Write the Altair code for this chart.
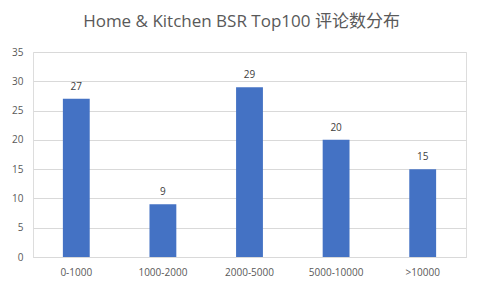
import altair as alt
import pandas as pd

categories = ["0-1000", "1000-2000", "2000-5000", "5000-10000", ">10000"]
values = [27, 9, 29, 20, 15]
title_text = "Home & Kitchen BSR Top100 评论数分布"

df = pd.DataFrame({"range": categories, "count": values})

FONT = "Open Sans, Noto Sans CJK SC, sans-serif"

base = alt.Chart(df).encode(
    x=alt.X("range:N", sort=categories, title=None,
            scale=alt.Scale(paddingInner=0.69, paddingOuter=0.345),
            axis=alt.Axis(labelAngle=0, ticks=False, domainColor="#d9d9d9",
                          labelColor="#595959", labelFontSize=10, labelPadding=10,
                          labelFont=FONT, grid=False)),
    y=alt.Y("count:Q", title=None,
            scale=alt.Scale(domain=[0, 35]),
            axis=alt.Axis(values=[0, 5, 10, 15, 20, 25, 30, 35], ticks=False, domain=False,
                          gridColor="#d9d9d9", labelColor="#595959", labelFontSize=10,
                          labelPadding=10, labelFont=FONT)),
)

bars = base.mark_bar(color="#4472C4")
labels = base.mark_text(dy=-12, fontSize=10, color="#404040", font=FONT).encode(text="count:Q")

chart = (bars + labels).properties(
    width=433, height=205,
    autosize=alt.AutoSizeParams(type="none"),
    padding={"left": 25, "top": 44, "right": 8, "bottom": 24},
    title=alt.TitleParams(title_text, fontSize=17, font=FONT, color="#595959",
                          fontWeight="normal", anchor="middle", dx=-8, offset=16),
).configure_view(stroke=None).configure(background="white")

chart.save("out.html", embed_options={"renderer": "svg", "actions": False})
